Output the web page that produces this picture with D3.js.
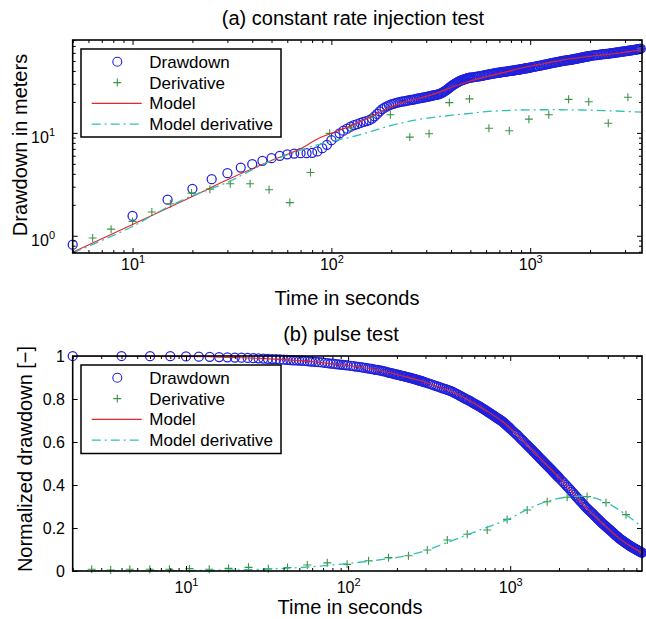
<!DOCTYPE html>
<html>
<head>
<meta charset="utf-8">
<script src="https://cdn.jsdelivr.net/npm/d3@7"></script>
<style>
body { margin: 0; background: #fff; }
svg { display: block; font-family: "Liberation Sans", Arial, Helvetica, sans-serif; }
</style>
</head>
<body>
<svg></svg>
<script>
//data
////////////////////////////////////////////////////////////////

// (a) constant rate injection test  [time s, value]
const topDrawdown = [
  [5,0.82],[10,1.56],[15,2.24],[20,2.86],[25,3.55],[30,4.06],[35,4.6],[40,4.97],[45,5.35],[50,5.68],
  [55,5.98],[60,6.2],[65,6.3],[70,6.35],[75,6.35],[80,6.4],[85,6.6],[90,7.1],[95,7.65],[100,8.5],
  [105,9.2],[110,9.9],[115,10.5],[120,11.0],[125,11.5],[130,11.9],[135,12.2],[140,12.5],[145,12.8],[150,13.0],
  [155,13.3],[160,13.8],[165,14.5],[170,15.3],[175,16.2],[180,17.0],[185,17.6],[190,18.1],[195,18.5],[200,18.9],
  [205,19.2],[210,19.5],[215,19.7],[220,19.9],[225,20.1],[230,20.2],[235,20.4],[240,20.6],[245,20.7],[250,20.9],
  [255,21.0],[260,21.2],[265,21.3],[270,21.5],[275,21.6],[280,21.8],[285,21.9],[290,22.1],[295,22.2],[300,22.4],
  [305,22.5],[310,22.7],[315,22.8],[320,23.0],[325,23.1],[330,23.3],[335,23.4],[340,23.5],[345,23.7],[350,23.9],
  [355,24.2],[360,24.5],[365,24.9],[370,25.3],[375,25.7],[380,26.2],[385,26.7],[390,27.2],[395,27.8],[400,28.3],
  [405,28.8],[410,29.3],[415,29.8],[420,30.2],[425,30.6],[430,31.0],[435,31.4],[440,31.8],[445,32.1],[450,32.4],
  [455,32.7],[460,32.9],[465,33.2],[470,33.4],[475,33.6],[480,33.8],[485,34.0],[490,34.2],[495,34.4],[500,34.5],
  [510,34.7],[520,34.9],[530,35.1],[540,35.3],[550,35.5],[560,35.7],[570,35.9],[580,36.1],[590,36.4],[600,36.7],
  [610,36.9],[620,37.1],[630,37.3],[640,37.5],[650,37.7],[660,37.9],[670,38.1],[680,38.3],[690,38.5],[700,38.6],
  [710,38.8],[720,38.9],[730,39.1],[740,39.2],[750,39.4],[760,39.5],[770,39.7],[780,39.8],[790,40.0],[800,40.1],
  [810,40.3],[820,40.4],[830,40.6],[840,40.7],[850,40.9],[860,41.0],[870,41.2],[880,41.3],[890,41.5],[900,41.6],
  [910,41.8],[920,41.9],[930,42.1],[940,42.3],[950,42.4],[960,42.6],[970,42.7],[980,42.9],[990,43.0],[1000,43.2],
  [1020,43.5],[1040,43.8],[1060,44.1],[1080,44.5],[1100,44.8],[1120,45.1],[1140,45.4],[1160,45.8],[1180,46.1],[1200,46.4],
  [1220,46.7],[1240,47.0],[1260,47.3],[1280,47.7],[1300,48.0],[1320,48.3],[1340,48.6],[1360,48.8],[1380,49.1],[1400,49.3],
  [1420,49.6],[1440,49.8],[1460,50.0],[1480,50.3],[1500,50.5],[1520,50.7],[1540,50.9],[1560,51.1],[1580,51.3],[1600,51.5],
  [1620,51.7],[1640,51.9],[1660,52.2],[1680,52.4],[1700,52.6],[1720,52.8],[1740,53.1],[1760,53.3],[1780,53.5],[1800,53.8],
  [1820,54.0],[1840,54.2],[1860,54.5],[1880,54.7],[1900,55.0],[1920,55.2],[1940,55.4],[1960,55.6],[1980,55.8],[2000,56.0],
  [2040,56.3],[2080,56.6],[2120,56.9],[2160,57.1],[2200,57.4],[2240,57.7],[2280,57.9],[2320,58.2],[2360,58.4],[2400,58.6],
  [2440,58.8],[2480,59.1],[2520,59.3],[2560,59.6],[2600,59.8],[2640,60.0],[2680,60.3],[2720,60.5],[2760,60.8],[2800,61.0],
  [2840,61.2],[2880,61.5],[2920,61.7],[2960,62.0],[3000,62.2],[3040,62.4],[3080,62.7],[3120,62.9],[3160,63.1],[3200,63.4],
  [3240,63.6],[3280,63.8],[3320,64.1],[3360,64.3],[3400,64.6],[3440,64.8],[3480,65.1],[3520,65.3],[3560,65.6],[3600,65.8]
];
const topDerivative = [
  [6.3,0.95],[7.8,1.16],[10,1.38],[12.5,1.7],[15.5,2.05],[19.8,2.6],[24.5,2.84],[31,3.2],[39,3.2],[48.6,2.8],
  [61.8,2.1],[78.5,4.12],[98,9.9],[126,11.2],[158,14.2],[198,15],[248,9.1],[310,9.8],[392,19.7],[495,21.4],
  [620,11.1],[785,10.5],[985,13.6],[1240,15],[1560,21.2],[1970,20.1],[2470,12.4],[3100,22.2]
];
const topModel = [
  [5,0.69],[10,1.29],[20,2.41],[30,3.5],[50,5.4],[70,7.0],[87,8.9],[100,9.9],[128,11.9],[160,14.5],
  [189,17.2],[230,19.8],[278,21.7],[340,24.5],[409,28.1],[500,32.0],[601,35.2],[750,39.0],[885,42.3],[1100,46.0],
  [1300,49.0],[1600,52.5],[1915,55.0],[2300,57.3],[2813,59.8],[3200,62.0],[3650,64.8]
];
const topModelDerivative = [
  [5,0.68],[7,0.9],[10,1.23],[15,1.9],[20,2.45],[24,2.8],[30,3.3],[40,4.4],[47,5.1],[60,6.1],
  [80,7.4],[100,8.3],[128,9.2],[160,10.4],[190,11.5],[230,12.6],[280,13.6],[340,14.3],[410,14.9],[500,15.5],
  [600,16.1],[750,16.5],[900,16.7],[1300,16.8],[1800,16.7],[2300,16.5],[3000,16.2],[3650,15.9]
];

// (b) pulse test  [time s, normalized value]
const botDrawdown = [
  [2,1.000],[4,1.000],[6,0.999],[8,0.999],[10,0.998],[12,0.997],[14,0.996],[16,0.995],[18,0.994],[20,0.993],
  [22,0.992],[24,0.991],[26,0.990],[28,0.989],[30,0.988],[32,0.987],[34,0.986],[36,0.985],[38,0.984],[40,0.983],
  [42,0.982],[44,0.981],[46,0.980],[48,0.980],[50,0.979],[52,0.978],[54,0.977],[56,0.976],[58,0.975],[60,0.974],
  [63,0.973],[66,0.971],[69,0.970],[72,0.968],[75,0.967],[78,0.965],[81,0.964],[84,0.962],[87,0.961],[90,0.960],
  [93,0.959],[96,0.957],[99,0.956],
  [104,0.954],[108,0.953],[112,0.951],[116,0.950],[120,0.948],[124,0.946],[128,0.945],[132,0.943],[136,0.941],[140,0.940],
  [144,0.938],[148,0.936],[152,0.935],[156,0.933],[160,0.932],[164,0.930],[168,0.928],[172,0.926],[176,0.924],[180,0.922],
  [184,0.920],[188,0.919],[192,0.917],[196,0.915],[200,0.914],[204,0.912],[208,0.911],[212,0.909],[216,0.908],[220,0.906],
  [224,0.905],[228,0.903],[232,0.902],[236,0.900],[240,0.899],[244,0.898],[248,0.896],[252,0.895],[256,0.893],[260,0.892],
  [264,0.890],[268,0.889],[272,0.887],[276,0.886],[280,0.885],[284,0.883],[288,0.882],[292,0.880],[296,0.879],[300,0.877],
  [310,0.874],[320,0.870],[330,0.867],[340,0.863],[350,0.860],[360,0.857],[370,0.854],[380,0.851],[390,0.848],[400,0.846],
  [410,0.843],[420,0.840],[430,0.837],[440,0.834],[450,0.830],[460,0.826],[470,0.823],[480,0.819],[490,0.815],[500,0.812],
  [510,0.808],[520,0.805],[530,0.801],[540,0.798],[550,0.795],[560,0.792],[570,0.789],[580,0.786],[590,0.782],[600,0.779],
  [610,0.776],[620,0.773],[630,0.770],[640,0.767],[650,0.764],[660,0.761],[670,0.758],[680,0.755],[690,0.752],[700,0.749],
  [710,0.746],[720,0.743],[730,0.740],[740,0.737],[750,0.734],[760,0.731],[770,0.728],[780,0.726],[790,0.723],[800,0.720],
  [810,0.717],[820,0.714],[830,0.712],[840,0.709],[850,0.707],[860,0.704],[870,0.702],[880,0.699],[890,0.697],[900,0.694],
  [910,0.691],[920,0.688],[930,0.684],[940,0.681],[950,0.678],[960,0.675],[970,0.672],[980,0.669],[990,0.666],[1000,0.662],
  [1020,0.656],[1040,0.650],[1060,0.645],[1080,0.639],[1100,0.634],[1120,0.628],[1140,0.622],[1160,0.616],[1180,0.611],[1200,0.605],
  [1220,0.600],[1240,0.594],[1260,0.589],[1280,0.584],[1300,0.579],[1320,0.574],[1340,0.569],[1360,0.564],[1380,0.559],[1400,0.554],
  [1420,0.549],[1440,0.545],[1460,0.540],[1480,0.535],[1500,0.531],[1520,0.526],[1540,0.522],[1560,0.518],[1580,0.513],[1600,0.509],
  [1620,0.505],[1640,0.501],[1660,0.497],[1680,0.493],[1700,0.489],[1720,0.485],[1740,0.481],[1760,0.477],[1780,0.474],[1800,0.470],
  [1820,0.466],[1840,0.462],[1860,0.459],[1880,0.455],[1900,0.451],[1920,0.448],[1940,0.444],[1960,0.441],[1980,0.437],[2000,0.434],
  [2050,0.425],[2100,0.417],[2150,0.409],[2200,0.401],[2250,0.393],[2300,0.385],[2350,0.377],[2400,0.369],[2450,0.362],[2500,0.354],
  [2550,0.347],[2600,0.340],[2650,0.333],[2700,0.326],[2750,0.320],[2800,0.313],[2850,0.307],[2900,0.300],[2950,0.295],[3000,0.289],
  [3050,0.284],[3100,0.279],[3150,0.274],[3200,0.269],[3250,0.264],[3300,0.259],[3350,0.254],[3400,0.249],[3450,0.244],[3500,0.240],
  [3550,0.235],[3600,0.231],[3650,0.226],[3700,0.222],[3750,0.218],[3800,0.214],[3850,0.210],[3900,0.207],[3950,0.203],[4000,0.199],
  [4050,0.196],[4100,0.192],[4150,0.189],[4200,0.185],[4250,0.182],[4300,0.178],[4350,0.175],[4400,0.172],[4450,0.168],[4500,0.165],
  [4550,0.162],[4600,0.159],[4650,0.156],[4700,0.152],[4750,0.150],[4800,0.147],[4850,0.145],[4900,0.142],[4950,0.140],[5000,0.138],
  [5050,0.136],[5100,0.133],[5150,0.131],[5200,0.129],[5250,0.127],[5300,0.125],[5350,0.122],[5400,0.120],[5450,0.118],[5500,0.116],
  [5550,0.114],[5600,0.113],[5650,0.111],[5700,0.109],[5750,0.108],[5800,0.106],[5850,0.105],[5900,0.103],[5950,0.101],[6000,0.100],
  [6050,0.098],[6100,0.097],[6150,0.095],[6200,0.094],[6250,0.092],[6300,0.091],[6350,0.089],[6400,0.088],[6450,0.087],[6500,0.085]
];
const botDerivative = [
  [2.62,0.008],[3.43,0.005],[4.5,0.008],[5.98,0.008],[7.9,0.008],[10.5,0.011],[13.9,0.008],[18.3,0.012],[24.3,0.017],[32.2,0.01],
  [42.3,0.016],[56,0.028],[74.4,0.038],[98.6,0.031],[133.7,0.048],[177.5,0.062],[235.6,0.071],[308,0.098],[409,0.144],[543,0.171],
  [721,0.191],[957,0.24],[1273,0.284],[1690,0.322],[2245,0.343],[2979,0.346],[3898,0.318],[5180,0.262]
];
const botModel = [
  [2,1.0],[10,0.998],[20,0.993],[30,0.988],[40,0.983],[60,0.974],[80,0.964],[100,0.956],[130,0.944],[170,0.927],
  [220,0.906],[270,0.888],[350,0.86],[440,0.834],[550,0.795],[700,0.749],[900,0.694],[1130,0.625],[1430,0.547],[1800,0.47],
  [2300,0.385],[2900,0.30],[3700,0.222],[4700,0.152],[5500,0.116],[6500,0.085]
];
const botModelDerivative = [
  [2,0.0],[5,0.001],[10,0.002],[20,0.005],[30,0.008],[40,0.012],[60,0.02],[80,0.028],[100,0.035],[150,0.05],
  [200,0.063],[300,0.095],[400,0.13],[550,0.17],[700,0.2],[1000,0.245],[1300,0.29],[1700,0.325],[2200,0.343],[2700,0.348],
  [3300,0.34],[4000,0.315],[5000,0.27],[6500,0.205]
];

const topTicksX = [10, 100, 1000];
const topTicksY = [1, 10];
const botTicksX = [10, 100, 1000];
const botTicksY = [0, 0.2, 0.4, 0.6, 0.8, 1];
const botTickLabelsY = ['0', '0.2', '0.4', '0.6', '0.8', '1'];
const legendNames = ['Drawdown', 'Derivative', 'Model', 'Model derivative'];

//make chart
////////////////////////////////////////////////////////////////
let width = 646
let height = 619
let left = 72.7
let right = 642
let font = 'Liberation Sans, Arial, Helvetica, sans-serif'

let colBlue = '#2020dc'
let colGreen = '#3e9446'
let colRed = '#e2262a'
let colCyan = '#2ec2b4'
let dashDot = '9,4,2,4'
let markR = 4.5

let svg = d3.select('svg').attr('width', width).attr('height', height)

let crossPath = (cx, cy) => `M${cx - 4},${cy}h8M${cx},${cy - 4}v8`

let powerLabels = (sel, dy) => {
  sel.selectAll('.tick text').each(function (d) {
    let t = d3.select(this)
    t.text(null)
    if (dy) t.attr('dy', dy)
    t.append('tspan').text('10')
    t.append('tspan').attr('dy', -7).attr('font-size', 11).text(Math.round(Math.log10(d)))
  })
}

let drawPanel = (p) => {
  let x = d3.scaleLog().domain(p.xDomain).range([left, right])
  let y = (p.yLog ? d3.scaleLog() : d3.scaleLinear()).domain(p.yDomain).range([p.bottom, p.top])
  let isMajor = (list) => (d) => list.some(m => Math.abs(m - d) < 1e-6 * Math.max(1, m))

  svg.append('clipPath').attr('id', 'clip' + p.id)
    .append('rect')
    .attr('x', left).attr('y', p.top)
    .attr('width', right - left).attr('height', p.bottom - p.top)

  let g = svg.append('g')

  // drawdown circles
  g.append('g').selectAll('circle')
    .data(p.drawdown)
    .enter()
    .append('circle')
    .attr('cx', d => x(d[0]))
    .attr('cy', d => y(d[1]))
    .attr('r', markR)
    .attr('fill', 'none')
    .attr('stroke', colBlue)
    .attr('stroke-width', 1.25)

  // derivative crosses
  g.append('g').selectAll('path')
    .data(p.derivative)
    .enter()
    .append('path')
    .attr('d', d => crossPath(x(d[0]), y(d[1])))
    .attr('stroke', colGreen)
    .attr('stroke-width', 1.1)
    .attr('fill', 'none')

  let line = d3.line().x(d => x(d[0])).y(d => y(d[1])).curve(d3.curveMonotoneX)

  g.append('path')
    .datum(p.model)
    .attr('d', line)
    .attr('clip-path', `url(#clip${p.id})`)
    .attr('fill', 'none')
    .attr('stroke', colRed)
    .attr('stroke-width', 1.1)

  g.append('path')
    .datum(p.modelDerivative)
    .attr('d', line)
    .attr('clip-path', `url(#clip${p.id})`)
    .attr('fill', 'none')
    .attr('stroke', colCyan)
    .attr('stroke-width', 1.3)
    .attr('stroke-dasharray', dashDot)

  // box
  svg.append('rect')
    .attr('x', left).attr('y', p.top)
    .attr('width', right - left).attr('height', p.bottom - p.top)
    .attr('fill', 'none')
    .attr('stroke', '#000')
    .attr('stroke-width', 1.6)

  let minorX = x.ticks().filter(d => !isMajor(p.xTicks)(d))
  let minorY = p.yLog ? y.ticks().filter(d => !isMajor(p.yTicks)(d)) : []

  let addAxis = (axis, transform) => {
    let a = svg.append('g')
      .attr('transform', transform)
      .call(axis)
    a.select('.domain').remove()
    a.attr('font-family', font).attr('font-size', 16)
    a.selectAll('line').attr('stroke', '#000')
    return a
  }

  // x axis bottom (labelled) and top
  let xb = addAxis(d3.axisBottom(x).tickValues(p.xTicks).tickSizeInner(-5).tickSizeOuter(0).tickPadding(p.xPad),
    `translate(0, ${p.bottom})`)
  powerLabels(xb)
  addAxis(d3.axisBottom(x).tickValues(minorX).tickSizeInner(-3).tickSizeOuter(0).tickFormat(''),
    `translate(0, ${p.bottom})`)
  addAxis(d3.axisTop(x).tickValues(p.xTicks).tickSizeInner(-5).tickSizeOuter(0).tickFormat(''),
    `translate(0, ${p.top})`)
  addAxis(d3.axisTop(x).tickValues(minorX).tickSizeInner(-3).tickSizeOuter(0).tickFormat(''),
    `translate(0, ${p.top})`)

  // y axis left (labelled) and right
  let yl = d3.axisLeft(y).tickValues(p.yTicks).tickSizeInner(-5).tickSizeOuter(0).tickPadding(p.yPad)
  if (!p.yLog) yl.tickFormat((d, i) => p.yTickLabels[i])
  let ya = addAxis(yl, `translate(${left}, 0)`)
  if (p.yLog) powerLabels(ya, '0.6em')
  addAxis(d3.axisRight(y).tickValues(p.yTicks).tickSizeInner(-5).tickSizeOuter(0).tickFormat(''),
    `translate(${right}, 0)`)
  if (minorY.length) {
    addAxis(d3.axisLeft(y).tickValues(minorY).tickSizeInner(-3).tickSizeOuter(0).tickFormat(''),
      `translate(${left}, 0)`)
    addAxis(d3.axisRight(y).tickValues(minorY).tickSizeInner(-3).tickSizeOuter(0).tickFormat(''),
      `translate(${right}, 0)`)
  }

  // titles and labels
  svg.append('text')
    .attr('x', p.titleX).attr('y', p.titleY)
    .attr('text-anchor', 'middle')
    .attr('font-size', 20)
    .text(p.title)

  svg.append('text')
    .attr('x', p.xlabelX).attr('y', p.xlabelY)
    .attr('text-anchor', 'middle')
    .attr('font-size', 20)
    .text('Time in seconds')

  svg.append('text')
    .attr('transform', `translate(${p.ylabelX}, ${p.ylabelY}) rotate(-90)`)
    .attr('text-anchor', 'middle')
    .attr('font-size', 20)
    .text(p.ylabel)

  // legend
  let lg = svg.append('g')
  lg.append('rect')
    .attr('x', 81).attr('y', p.legendTop)
    .attr('width', 200).attr('height', p.legendBottom - p.legendTop)
    .attr('fill', '#fff')
    .attr('stroke', '#000')
    .attr('stroke-width', 1.5)

  let rowY = (i) => p.legendTop + 12.8 + i * 20.8

  lg.selectAll('text')
    .data(legendNames)
    .enter()
    .append('text')
    .attr('x', 149.3)
    .attr('y', (d, i) => rowY(i) + 6)
    .attr('font-size', 17)
    .text(d => d)

  lg.append('circle')
    .attr('cx', 117.3).attr('cy', rowY(0)).attr('r', markR)
    .attr('fill', 'none').attr('stroke', colBlue).attr('stroke-width', 1.1)
  lg.append('path')
    .attr('d', crossPath(117.3, rowY(1)))
    .attr('stroke', colGreen).attr('stroke-width', 1.1)
  lg.append('line')
    .attr('x1', 91.7).attr('x2', 141.7).attr('y1', rowY(2)).attr('y2', rowY(2))
    .attr('stroke', colRed).attr('stroke-width', 1.1)
  lg.append('line')
    .attr('x1', 91.7).attr('x2', 141.7).attr('y1', rowY(3)).attr('y2', rowY(3))
    .attr('stroke', colCyan).attr('stroke-width', 1.3)
    .attr('stroke-dasharray', dashDot)
}

drawPanel({
  id: 'a', top: 40, bottom: 253,
  xDomain: [5, 3650], yDomain: [0.68, 80], yLog: true,
  xTicks: topTicksX, yTicks: topTicksY,
  xPad: 6, yPad: 17.7,
  drawdown: topDrawdown, derivative: topDerivative, model: topModel, modelDerivative: topModelDerivative,
  title: '(a) constant rate injection test', titleX: 353, titleY: 25,
  xlabelX: 347, xlabelY: 305,
  ylabel: 'Drawdown in meters', ylabelX: 26.5, ylabelY: 145,
  legendTop: 49, legendBottom: 137
})

drawPanel({
  id: 'b', top: 356, bottom: 571,
  xDomain: [2, 6500], yDomain: [0, 1], yLog: false,
  xTicks: botTicksX, yTicks: botTicksY, yTickLabels: botTickLabelsY,
  xPad: 11, yPad: 7.7,
  drawdown: botDrawdown, derivative: botDerivative, model: botModel, modelDerivative: botModelDerivative,
  title: '(b) pulse test', titleX: 341, titleY: 341,
  xlabelX: 350, xlabelY: 614,
  ylabel: 'Normalized drawdown [\u2212]', ylabelX: 32, ylabelY: 459,
  legendTop: 365, legendBottom: 453.5
})
</script>
</body>
</html>
